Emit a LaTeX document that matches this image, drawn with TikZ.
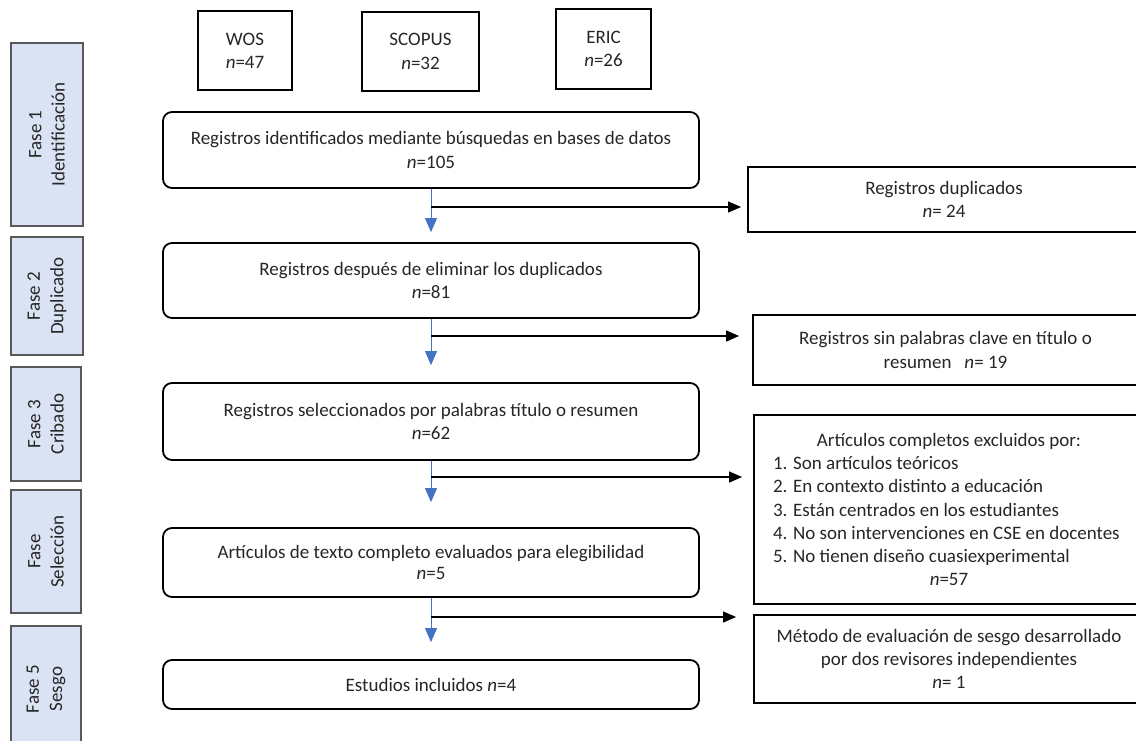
\documentclass[tikz,border=0pt]{standalone}
\usepackage{fontspec}
\setmainfont{Carlito}
\usetikzlibrary{arrows.meta}
\definecolor{fasefondo}{HTML}{DAE3F3}
\definecolor{flechaazul}{HTML}{4472C4}
\newcommand{\motivo}[1]{\makebox[352pt][l]{#1}}
\begin{document}
\begin{tikzpicture}[x=1pt, y=-1pt, font=\fontsize{19}{23.3}\selectfont, text=black!85,
    fase/.style = {draw=black!65, line width=1.2pt, fill=fasefondo, rotate=90, align=center, inner sep=0pt},
    base/.style = {draw, line width=2pt, align=center, inner sep=0pt, minimum height=79},
    main/.style = {draw, line width=1.8pt, rounded corners=9, align=center, inner sep=0pt, minimum width=536},
    lado/.style = {draw, line width=1.8pt, align=center, inner sep=0pt, minimum width=390},
    baja/.style = {draw=flechaazul, line width=1pt, -{Triangle[length=14pt, width=12pt]}},
    sale/.style = {line width=1.1pt, -{Triangle[length=13pt, width=11pt]}}]
    \clip (0,0) rectangle (1136,740);
    % fases
    \node[fase, minimum width=183, minimum height=72] (f1) at (47,134.5) {Fase 1\\Identificación};
    \node[fase, minimum width=118, minimum height=72] (f2) at (47,296) {Fase 2\\Duplicado};
    \node[fase, minimum width=114, minimum height=70] (f3) at (46,424) {Fase 3\\Cribado};
    \node[fase, minimum width=123, minimum height=70] (f4) at (46,551.5) {Fase\\Selección};
    \node[fase, minimum width=126, minimum height=70] (f5) at (46,689) {Fase 5\\Sesgo};
    % bases de datos
    \node[base, minimum width=94] (wos) at (245,50.5) {WOS\\\textit{n}=47};
    \node[base, minimum width=117] (scopus) at (420.5,51.5) {SCOPUS\\\textit{n}=32};
    \node[base, minimum width=95, minimum height=80] (eric) at (603.5,49) {ERIC\\\textit{n}=26};
    % flujo principal
    \node[main, minimum height=76] (1) at (431,150) {Registros identificados mediante búsquedas en bases de datos\\\textit{n}=105};
    \node[main, minimum height=75] (2) at (431,280.5) {Registros después de eliminar los duplicados\\\textit{n}=81};
    \node[main, minimum height=77] (3) at (431,421.5) {Registros seleccionados por palabras título o resumen\\\textit{n}=62};
    \node[main, minimum height=69] (4) at (431,562.5) {Artículos de texto completo evaluados para elegibilidad\\[-2pt]\textit{n}=5};
    \node[main, minimum height=49] (5) at (431,684.5) {Estudios incluidos \textit{n}=4};
    % excluidos
    \node[lado, minimum width=392, minimum height=65] (e1) at (944,199.5) {Registros duplicados\\\textit{n}= 24};
    \node[lado, minimum width=385, minimum height=70] (e2) at (945.5,350) {Registros sin palabras clave en título o\\resumen~~~\textit{n}= 19};
    \node[lado, minimum height=189] (e3) at (949,509.5) {Artículos completos excluidos por:\\\motivo{1. Son artículos teóricos}\\\motivo{2. En contexto distinto a educación}\\\motivo{3. Están centrados en los estudiantes}\\\motivo{4. No son intervenciones en CSE en docentes}\\\motivo{5. No tienen diseño cuasiexperimental}\\\textit{n}=57};
    \node[lado, minimum height=88] (e4) at (949,659) {Método de evaluación de sesgo desarrollado\\por dos revisores independientes\\\textit{n}= 1};

    \coordinate (h1) at (431,207);
    \coordinate (h2) at (431,336);
    \coordinate (h3) at (431,477);
    \coordinate (h4) at (431,617);

    \draw[baja, shorten >=10pt] (1.south) -- (2.north);
    \draw[baja, shorten >=17pt] (2.south) -- (3.north);
    \draw[baja, shorten >=25pt] (3.south) -- (4.north);
    \draw[baja, shorten >=17pt] (4.south) -- (5.north);

    \draw[sale, shorten >=6pt] (h1) -- (h1 -| e1.west);
    \draw[sale, shorten >=13pt] (h2) -- (h2 -| e2.west);
    \draw[sale, shorten >=11pt] (h3) -- (h3 -| e3.west);
    \draw[sale, shorten >=17pt] (h4) -- (h4 -| e4.west);
\end{tikzpicture}
\end{document}
